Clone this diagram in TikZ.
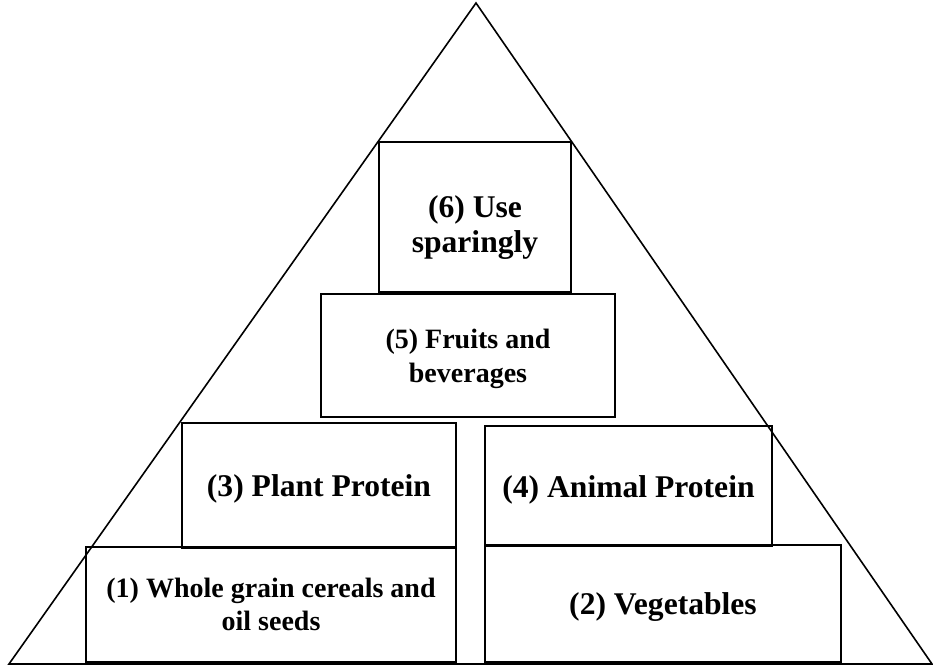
\documentclass[tikz,border=0pt]{standalone}
\usepackage{fontspec}
\setmainfont{Liberation Serif}
\usepackage{tikz}

\tikzset{
	tier/.style={draw, line width=1pt, inner sep=0pt, align=center, font=\bfseries\fontsize{15.8}{17.5}\selectfont},
	smalltier/.style={tier, font=\bfseries\fontsize{14}{17}\selectfont}
}
% strut that pushes a label a little lower in its box
\newcommand{\droptext}[1]{\rule{0pt}{#1}}

\begin{document}
\begin{tikzpicture}[x=0.5pt, y=-0.5pt]
	\useasboundingbox (0,0) rectangle (933,668);
	% pyramid outline
	\coordinate (apex) at (476,3);
	\coordinate (baseL) at (9,664);
	\coordinate (baseR) at (932,664);
	\draw[line width=0.8pt, line join=miter] (apex) -- (baseL) -- (baseR) -- cycle;
	% tiers, top to bottom
	\node[tier, minimum width=96pt, minimum height=75pt] (spare) at (475,217) {\droptext{21pt}(6) Use\\sparingly};
	\node[smalltier, minimum width=147pt, minimum height=61.5pt] (fruit) at (468,355.5) {\droptext{13pt}(5) Fruits and\\beverages};
	\node[tier, minimum width=137pt, minimum height=62.5pt] (plant) at (319,485.5) {\droptext{14pt}(3) Plant Protein};
	\node[tier, minimum width=143.5pt, minimum height=60pt] (animal) at (628.5,486) {\droptext{15pt}(4) Animal Protein};
	\node[smalltier, font=\bfseries\fontsize{14}{16.5}\selectfont, minimum width=185pt, minimum height=57.5pt] (grain) at (271,604.5) {(1) Whole grain cereals and\\oil seeds};
	\node[tier, minimum width=178pt, minimum height=58.5pt] (veg) at (663,603.5) {\droptext{14pt}(2) Vegetables};
\end{tikzpicture}
\end{document}
